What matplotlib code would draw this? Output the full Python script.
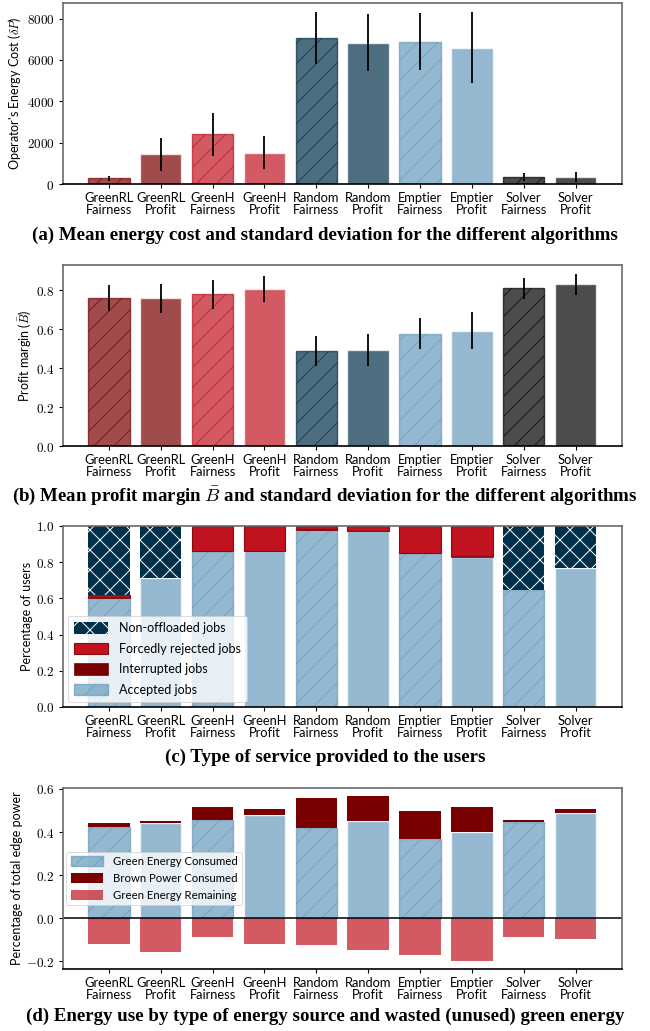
import matplotlib.pyplot as plt
from matplotlib.ticker import FuncFormatter

DPI = 60
K = 100 / DPI  # sizes below are written for a 100 dpi canvas


def pt(v):
    return v * K


plt.rcParams['font.family'] = ['Lato', 'DejaVu Sans']
plt.rcParams['mathtext.fontset'] = 'cm'
plt.rcParams['hatch.linewidth'] = pt(0.7)

labels = ['GreenRL\nFairness', 'GreenRL\nProfit', 'GreenH\nFairness', 'GreenH\nProfit',
          'Random\nFairness', 'Random\nProfit', 'Emptier\nFairness', 'Emptier\nProfit',
          'Solver\nFairness', 'Solver\nProfit']
bar_colors = ['#780000', '#780000', '#c1121f', '#c1121f', '#003049', '#003049',
              '#669bbc', '#669bbc', 'black', 'black']
fair_idx = [0, 2, 4, 6, 8]

# (a) energy cost
cost_mean = [290, 1450, 2410, 1510, 7080, 6840, 6890, 6600, 340, 340]
cost_std = [120, 800, 1045, 800, 1260, 1390, 1380, 1710, 170, 220]

# (b) profit margin
margin_mean = [0.759, 0.759, 0.779, 0.809, 0.489, 0.494, 0.578, 0.593, 0.810, 0.831]
margin_std = [0.066, 0.076, 0.074, 0.067, 0.077, 0.083, 0.081, 0.095, 0.055, 0.055]

# (c) service type
accepted = [0.604, 0.714, 0.861, 0.862, 0.980, 0.971, 0.848, 0.829, 0.646, 0.767]
interrupted = [0.004, 0.0, 0.0, 0.0, 0.003, 0.002, 0.003, 0.004, 0.0, 0.0]
rejected = [0.010, 0.0, 0.139, 0.138, 0.017, 0.027, 0.149, 0.167, 0.0, 0.0]
non_offloaded = [0.382, 0.286, 0.0, 0.0, 0.0, 0.0, 0.0, 0.0, 0.354, 0.233]

# (d) energy use
green_used = [0.425, 0.441, 0.455, 0.478, 0.420, 0.449, 0.368, 0.398, 0.446, 0.489]
brown_used = [0.018, 0.011, 0.059, 0.031, 0.140, 0.117, 0.129, 0.116, 0.008, 0.019]
green_left = [-0.117, -0.155, -0.085, -0.117, -0.122, -0.145, -0.172, -0.197, -0.085, -0.098]

captions = ['(a) Mean energy cost and standard deviation for the different algorithms',
            r'(b) Mean profit margin $\bar{B}$ and standard deviation for the different algorithms',
            '(c) Type of service provided to the users',
            '(d) Energy use by type of energy source and wasted (unused) green energy']

x = list(range(len(labels)))

fig = plt.figure(figsize=(650 / DPI, 1031 / DPI), dpi=DPI)
bottoms = [0.8215, 0.5674, 0.3143, 0.0601]
cap_y = [0.772, 0.519, 0.2658, 0.0146]
axs = [fig.add_axes([0.0965, b, 0.86, 0.1756]) for b in bottoms]


def style_axis(ax, fmt):
    for s in ['top', 'right', 'left']:
        ax.spines[s].set_color('#6a6a6a')
        ax.spines[s].set_linewidth(pt(1.2))
    ax.spines['bottom'].set_color('black')
    ax.spines['bottom'].set_linewidth(pt(1.2))
    ax.set_xticks(x)
    ax.set_xticklabels(labels, fontsize=pt(9.3), linespacing=1.0)
    ax.yaxis.set_major_formatter(FuncFormatter(lambda v, p: '$' + fmt % v + '$'))
    ax.tick_params(axis='y', labelsize=pt(9.5), length=pt(3), width=pt(0.8), pad=pt(3))
    ax.tick_params(axis='x', length=pt(3), width=pt(0.8), pad=pt(3))
    ax.yaxis.label.set_size(pt(9))


def mark_fairness(bars, color):
    for i in fair_idx:
        bars[i].set_hatch('/')
        bars[i].set_edgecolor(color[i] if isinstance(color, list) else color)


def drop_empty_edges(bars, values):
    for b, v in zip(bars, values):
        if v == 0:
            b.set_linewidth(0)


err_kw = dict(ecolor='black', elinewidth=pt(1.3), capsize=0)

# (a)
ax = axs[0]
bars = ax.bar(x, cost_mean, width=0.8, color=bar_colors, alpha=0.7, edgecolor='white',
              linewidth=pt(1), yerr=cost_std, error_kw=err_kw)
mark_fairness(bars, bar_colors)
ax.set_ylabel(r"Operator's Energy Cost ($\delta P$)")
ax.set_yticks([0, 2000, 4000, 6000, 8000])
style_axis(ax, '%.0f')

# (b)
ax = axs[1]
bars = ax.bar(x, margin_mean, width=0.8, color=bar_colors, alpha=0.7, edgecolor='white',
              linewidth=pt(1), yerr=margin_std, error_kw=err_kw)
mark_fairness(bars, bar_colors)
ax.set_ylabel(r'Profit margin ($\bar{B}$)')
ax.set_yticks([0, 0.2, 0.4, 0.6, 0.8])
style_axis(ax, '%.1f')

# (c)
ax = axs[2]
base1 = [a + b for a, b in zip(accepted, interrupted)]
base2 = [a + b for a, b in zip(base1, rejected)]
b_acc = ax.bar(x, accepted, width=0.8, color='#669bbc', alpha=0.7, edgecolor='white',
               linewidth=pt(1))
mark_fairness(b_acc, '#669bbc')
b_int = ax.bar(x, interrupted, bottom=accepted, width=0.8, color='#780000',
               edgecolor='#780000', linewidth=pt(0.5))
drop_empty_edges(b_int, interrupted)
b_rej = ax.bar(x, rejected, bottom=base1, width=0.8, color='#c1121f', edgecolor='#8a0a14',
               linewidth=pt(0.8))
drop_empty_edges(b_rej, rejected)
b_non = ax.bar(x, non_offloaded, bottom=base2, width=0.8, color='#003049', edgecolor='white',
               linewidth=0, hatch='x')
ax.set_ylim(0, 1.0)
ax.set_ylabel('Percentage of users')
ax.set_yticks([0, 0.2, 0.4, 0.6, 0.8, 1.0])
style_axis(ax, '%.1f')
ax.legend([b_non[0], b_rej[2], b_int[0], b_acc[0]],
          ['Non-offloaded jobs', 'Forcedly rejected jobs', 'Interrupted jobs', 'Accepted jobs'],
          loc='lower left', fontsize=pt(9.0), handlelength=2.7, handleheight=1.05,
          labelspacing=0.68, framealpha=0.8, borderpad=0.5, handletextpad=0.9,
          borderaxespad=0.4)

# (d)
ax = axs[3]
b_green = ax.bar(x, green_used, width=0.8, color='#669bbc', alpha=0.7, edgecolor='white',
                 linewidth=pt(1))
mark_fairness(b_green, '#669bbc')
b_brown = ax.bar(x, brown_used, bottom=green_used, width=0.8, color='#780000')
b_left = ax.bar(x, green_left, width=0.8, color='#c1121f', alpha=0.7, linewidth=0)
ax.axhline(0, color='black', linewidth=pt(1.1))
ax.set_ylabel('Percentage of total edge power')
ax.set_yticks([-0.2, 0.0, 0.2, 0.4, 0.6])
style_axis(ax, '%.1f')
ax.legend([b_green[0], b_brown[0], b_left[0]],
          ['Green Energy Consumed', 'Brown Power Consumed', 'Green Energy Remaining'],
          loc='center left', fontsize=pt(8.2), handlelength=2.8, handleheight=0.95,
          labelspacing=0.5, framealpha=0.8, handletextpad=0.9, borderaxespad=0.3)

for cy, cap in zip(cap_y, captions):
    fig.text(0.5, cy, cap, ha='center', va='center', fontsize=pt(13.6),
             family='Liberation Serif', weight='bold')

fig.savefig('out.png', dpi=DPI)
